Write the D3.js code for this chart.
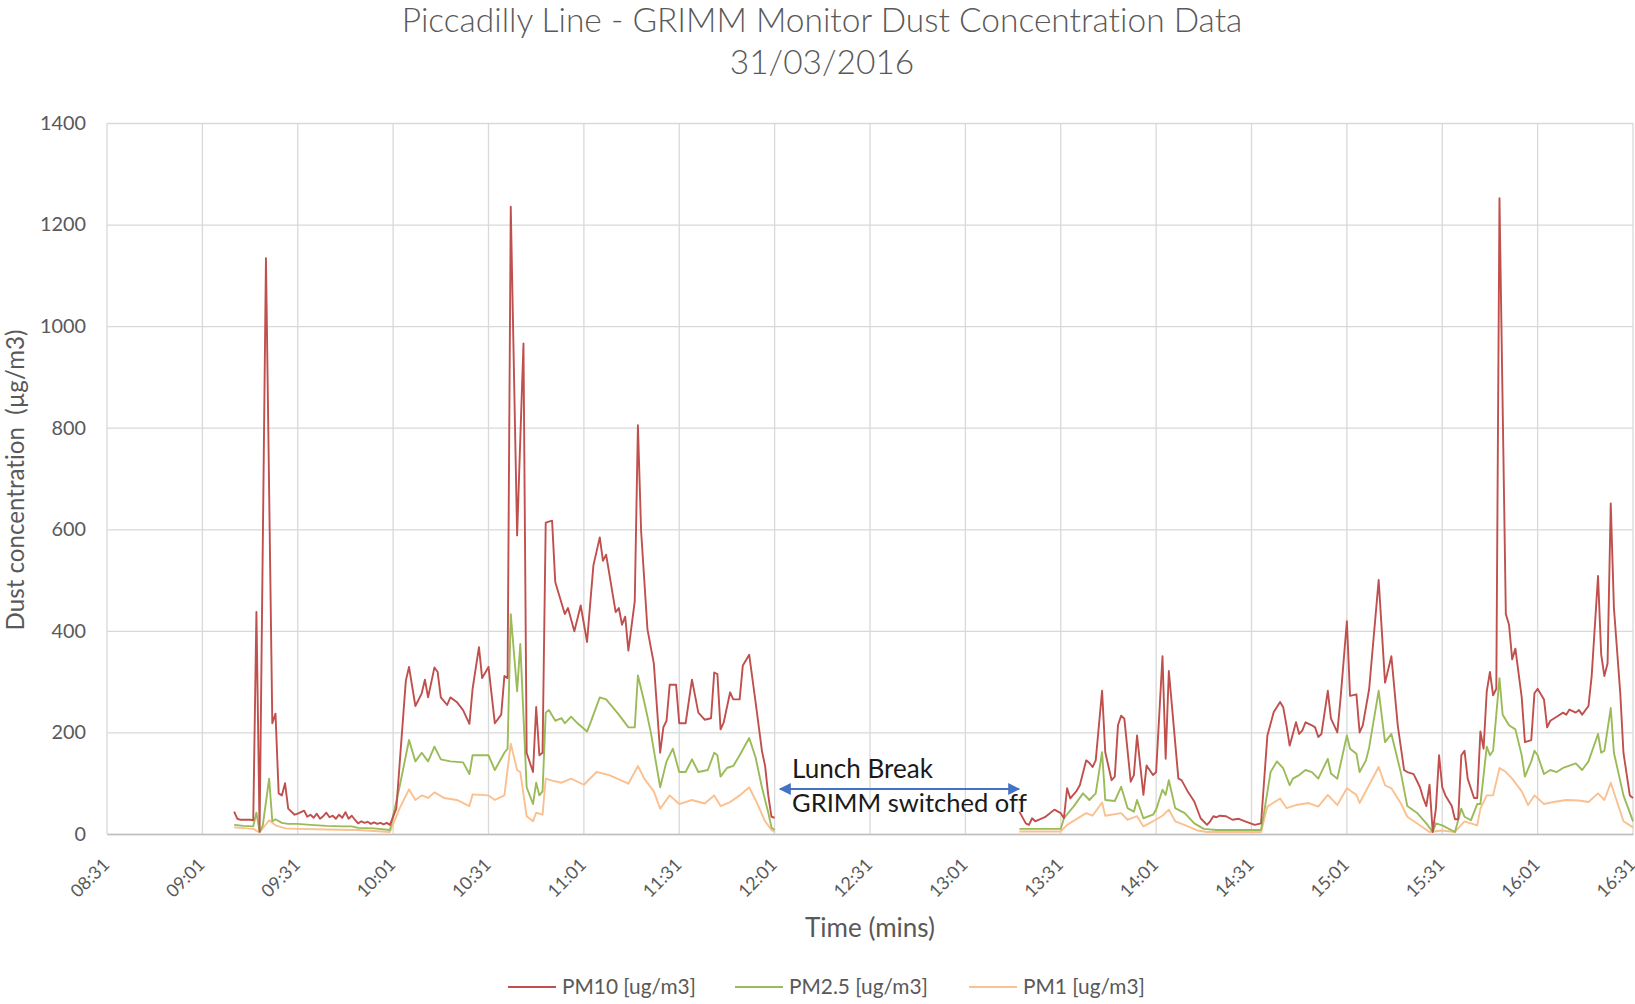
<!DOCTYPE html>
<html>
<head>
<meta charset="utf-8">
<script src="https://cdn.jsdelivr.net/npm/d3@7"></script>
<style>
  body { margin: 0; background: #fff; overflow: hidden; }
  svg text { font-family: Lato, "Open Sans", sans-serif; font-variant-ligatures: none; font-feature-settings: "liga" 0; }
</style>
</head>
<body>
<div id="chart"></div>
<script>
const titleLines = ["Piccadilly Line - GRIMM Monitor Dust Concentration Data", "31/03/2016"];
const xTicks = ["08:31", "09:01", "09:31", "10:01", "10:31", "11:01", "11:31", "12:01", "12:31",
  "13:01", "13:31", "14:01", "14:31", "15:01", "15:31", "16:01", "16:31"];
const yTicks = [0, 200, 400, 600, 800, 1000, 1200, 1400];
const seriesNames = ["PM10 [ug/m3]", "PM2.5 [ug/m3]", "PM1 [ug/m3]"];
const seriesColors = ["#c0504d", "#9bbb59", "#fac090"];

// [time, value]
const pm10 = [
  ["09:11",44],["09:12",30],["09:13",28],["09:14",28],["09:16",28],["09:17",27],["09:18",437],["09:19",5],
  ["09:21",1134],["09:23",218],["09:24",237],["09:25",80],["09:26",76],["09:27",100],["09:28",50],["09:30",38],
  ["09:31",40],["09:33",46],["09:34",34],["09:35",38],["09:36",32],["09:37",40],["09:38",30],["09:39",35],
  ["09:40",42],["09:41",33],["09:42",36],["09:43",30],["09:44",38],["09:45",32],["09:46",43],["09:47",30],
  ["09:48",36],["09:49",28],["09:50",21],["09:51",25],["09:52",22],["09:53",24],["09:54",20],["09:55",23],
  ["09:56",20],["09:57",22],["09:58",19],["09:59",22],["10:00",18],["10:02",50],["10:03",134],["10:05",302],
  ["10:06",329],["10:08",252],["10:10",277],["10:11",304],["10:12",269],["10:14",328],["10:15",319],["10:16",269],
  ["10:18",254],["10:19",269],["10:21",260],["10:23",244],["10:25",217],["10:26",286],["10:28",368],["10:29",307],
  ["10:31",329],["10:33",218],["10:35",235],["10:36",311],["10:37",307],["10:38",1235],["10:40",588],["10:42",966],
  ["10:43",160],["10:45",122],["10:46",250],["10:47",155],["10:48",160],["10:49",613],["10:51",617],["10:52",496],
  ["10:53",475],["10:55",433],["10:56",445],["10:58",399],["11:00",450],["11:02",378],["11:03",454],["11:04",529],
  ["11:06",584],["11:07",538],["11:08",550],["11:11",437],["11:12",445],["11:13",412],["11:14",428],["11:15",361],
  ["11:17",458],["11:18",805],["11:19",597],["11:21",403],["11:23",336],["11:25",160],["11:26",210],["11:27",223],
  ["11:28",294],["11:30",294],["11:31",218],["11:33",218],["11:35",304],["11:37",239],["11:39",225],["11:41",228],
  ["11:42",318],["11:43",315],["11:44",206],["11:45",220],["11:47",279],["11:48",265],["11:50",265],["11:51",332],
  ["11:53",353],["11:55",260],["11:57",164],["11:58",134],["11:59",76],["12:00",34],["12:01",32],
  ["13:18",44],["13:20",21],["13:21",18],["13:22",31],["13:23",25],["13:24",28],["13:26",33],["13:27",38],
  ["13:29",48],["13:31",41],["13:32",31],["13:33",90],["13:34",70],["13:36",85],["13:37",96],["13:39",145],
  ["13:40",140],["13:41",132],["13:42",145],["13:44",282],["13:45",161],["13:47",106],["13:48",113],["13:49",214],
  ["13:50",233],["13:51",227],["13:53",103],["13:54",116],["13:55",194],["13:57",77],["13:58",135],["14:00",116],
  ["14:01",122],["14:03",350],["14:04",148],["14:05",321],["14:08",109],["14:09",106],["14:11",83],["14:13",64],
  ["14:15",31],["14:17",18],["14:18",25],["14:19",35],["14:20",33],["14:21",36],["14:23",35],["14:25",28],
  ["14:27",30],["14:29",25],["14:32",18],["14:34",21],["14:36",194],["14:38",240],["14:40",260],["14:41",249],
  ["14:42",214],["14:43",174],["14:45",220],["14:46",197],["14:47",204],["14:48",220],["14:50",214],["14:51",210],
  ["14:52",191],["14:53",197],["14:55",282],["14:56",227],["14:58",200],["14:59",266],["15:01",419],["15:02",272],
  ["15:04",275],["15:05",200],["15:06",214],["15:08",285],["15:11",500],["15:13",298],["15:15",350],["15:17",214],
  ["15:19",126],["15:20",122],["15:22",118],["15:24",92],["15:25",71],["15:26",55],["15:27",97],["15:28",4],
  ["15:29",50],["15:30",155],["15:31",92],["15:32",76],["15:34",55],["15:35",29],["15:36",29],["15:37",155],
  ["15:38",164],["15:39",109],["15:41",71],["15:42",71],["15:43",202],["15:44",168],["15:45",281],["15:46",319],
  ["15:47",273],["15:48",286],["15:49",1252],["15:51",433],["15:52",412],["15:53",344],["15:54",365],["15:56",269],
  ["15:57",181],["15:59",185],["16:00",277],["16:01",286],["16:03",265],["16:04",210],["16:05",223],["16:07",231],
  ["16:09",239],["16:10",235],["16:11",245],["16:13",239],["16:14",244],["16:15",235],["16:17",252],["16:18",311],
  ["16:20",508],["16:21",353],["16:22",311],["16:23",336],["16:24",651],["16:25",445],["16:27",277],["16:28",160],
  ["16:30",76],["16:31",71]
];

const pm25 = [
  ["09:11",18],["09:14",16],["09:17",15],["09:18",42],["09:19",4],["09:20",17],["09:22",109],["09:23",25],
  ["09:24",29],["09:26",22],["09:28",20],["09:31",20],["09:35",18],["09:40",16],["09:45",15],["09:48",15],
  ["09:50",12],["09:55",11],["10:00",8],["10:03",92],["10:06",185],["10:08",143],["10:10",160],["10:12",143],
  ["10:14",172],["10:16",147],["10:19",143],["10:23",141],["10:25",118],["10:26",155],["10:31",155],["10:33",126],
  ["10:36",160],["10:37",168],["10:38",433],["10:40",281],["10:41",374],["10:43",92],["10:45",59],["10:46",101],
  ["10:47",76],["10:48",84],["10:49",239],["10:50",244],["10:52",223],["10:54",228],["10:55",218],["10:57",231],
  ["10:59",218],["11:02",202],["11:03",218],["11:06",269],["11:08",265],["11:12",235],["11:15",210],["11:17",210],
  ["11:18",312],["11:20",260],["11:22",202],["11:25",92],["11:27",143],["11:29",168],["11:31",122],["11:33",122],
  ["11:35",147],["11:37",122],["11:40",126],["11:42",160],["11:43",155],["11:44",113],["11:46",130],["11:48",134],
  ["11:50",155],["11:53",189],["11:55",151],["11:57",92],["11:59",42],["12:00",13],["12:01",8],
  ["13:18",10],["13:25",10],["13:31",10],["13:32",31],["13:35",54],["13:38",80],["13:40",67],["13:42",80],
  ["13:44",161],["13:45",67],["13:48",65],["13:50",93],["13:52",51],["13:54",44],["13:55",67],["13:57",31],
  ["14:00",38],["14:01",48],["14:03",87],["14:04",77],["14:05",106],["14:07",51],["14:10",41],["14:13",21],
  ["14:16",10],["14:20",8],["14:25",8],["14:30",8],["14:34",8],["14:35",44],["14:37",122],["14:39",143],
  ["14:41",129],["14:43",96],["14:44",109],["14:46",116],["14:48",126],["14:50",122],["14:52",109],["14:55",148],
  ["14:56",119],["14:58",109],["15:01",194],["15:02",168],["15:04",158],["15:05",122],["15:07",145],["15:08",170],
  ["15:11",282],["15:13",181],["15:15",197],["15:18",120],["15:20",55],["15:23",42],["15:26",21],["15:28",4],
  ["15:29",21],["15:31",17],["15:35",4],["15:37",50],["15:38",34],["15:40",27],["15:42",59],["15:43",59],
  ["15:45",172],["15:46",155],["15:47",164],["15:49",307],["15:50",235],["15:52",214],["15:54",206],["15:56",155],
  ["15:57",113],["15:59",143],["16:00",164],["16:01",155],["16:03",118],["16:05",126],["16:07",122],["16:09",130],
  ["16:13",139],["16:15",126],["16:17",143],["16:20",197],["16:21",160],["16:22",164],["16:24",248],["16:25",160],
  ["16:28",76],["16:30",42],["16:31",25]
];

const pm1 = [
  ["09:11",13],["09:17",10],["09:19",3],["09:22",27],["09:24",17],["09:27",11],["09:31",10],["09:40",9],
  ["09:50",8],["10:00",4],["10:03",50],["10:06",88],["10:08",67],["10:10",76],["10:12",71],["10:14",82],
  ["10:17",71],["10:21",67],["10:25",55],["10:26",78],["10:31",76],["10:33",67],["10:36",76],["10:38",178],
  ["10:40",126],["10:41",122],["10:43",35],["10:45",25],["10:46",42],["10:48",38],["10:49",109],["10:51",105],
  ["10:54",101],["10:57",109],["11:01",97],["11:05",122],["11:09",116],["11:15",99],["11:18",134],["11:20",109],
  ["11:23",84],["11:25",50],["11:28",76],["11:31",59],["11:35",67],["11:39",60],["11:42",76],["11:44",55],
  ["11:47",63],["11:50",76],["11:53",92],["11:55",67],["11:58",25],["12:00",8],["12:01",4],
  ["13:18",5],["13:25",5],["13:31",5],["13:33",18],["13:39",41],["13:41",36],["13:44",62],["13:45",36],
  ["13:50",41],["13:52",28],["13:55",35],["13:57",15],["14:00",25],["14:03",36],["14:05",48],["14:07",25],
  ["14:11",15],["14:14",7],["14:17",4],["14:34",4],["14:36",54],["14:40",70],["14:42",51],["14:45",57],
  ["14:49",61],["14:52",54],["14:55",77],["14:58",57],["15:01",90],["15:04",77],["15:05",61],["15:11",132],
  ["15:13",96],["15:15",90],["15:18",60],["15:20",34],["15:23",21],["15:27",4],["15:31",7],["15:35",4],
  ["15:38",25],["15:42",17],["15:43",50],["15:45",76],["15:47",76],["15:49",130],["15:51",122],["15:53",109],
  ["15:56",84],["15:58",57],["16:00",76],["16:03",59],["16:06",63],["16:10",67],["16:14",66],["16:17",63],
  ["16:20",80],["16:22",67],["16:24",101],["16:26",63],["16:28",25],["16:31",13]
];

const width = 1635, height = 1004;
const margin = {top: 123, right: 2, bottom: 170, left: 107};
const plotW = width - margin.left - margin.right;
const plotH = height - margin.top - margin.bottom;
const parse = d3.timeParse("%H:%M");

const svg = d3.select("#chart")
  .append("svg")
  .attr("width", width)
  .attr("height", height);

// fit a text element to the width it has in the reference
function fitText(sel, w) {
  sel.each(function() {
    const fs = parseFloat(getComputedStyle(this).fontSize);
    const len = this.getComputedTextLength();
    d3.select(this).style("font-size", (fs * w / len) + "px");
  });
}

const x = d3.scaleTime()
  .domain([parse(xTicks[0]), parse(xTicks[xTicks.length - 1])])
  .range([0, plotW]);

const y = d3.scaleLinear()
  .domain([0, 1400])
  .range([plotH, 0]);

const g = svg.append("g")
  .attr("transform", `translate(${margin.left},${margin.top})`);

// horizontal gridlines + y labels
const yAxis = g.append("g")
  .call(d3.axisLeft(y).tickValues(yTicks).tickFormat(d3.format("d")).tickSize(-plotW).tickPadding(21));
yAxis.select(".domain").remove();
yAxis.selectAll("line").attr("stroke", "#d9d9d9").attr("stroke-width", 1.3);
yAxis.selectAll("text").attr("fill", "#595959").style("font-size", "20px");
fitText(yAxis.selectAll("text").filter(d => d === 1400), 46);
yAxis.selectAll("text").style("font-size", yAxis.selectAll("text").filter(d => d === 1400).style("font-size"));

// vertical gridlines
g.append("g")
  .selectAll("line")
  .data(xTicks)
  .enter()
  .append("line")
  .attr("x1", d => x(parse(d)))
  .attr("x2", d => x(parse(d)))
  .attr("y1", 0)
  .attr("y2", plotH)
  .attr("stroke", "#d9d9d9")
  .attr("stroke-width", 1.3);

// x axis
const xAxis = g.append("g")
  .attr("transform", `translate(0,${plotH})`)
  .call(d3.axisBottom(x).tickValues(xTicks.map(parse)).tickFormat(d3.timeFormat("%H:%M")).tickSize(0));
xAxis.select(".domain").attr("stroke", "#bfbfbf").attr("stroke-width", 1.5);
xAxis.selectAll("text")
  .attr("fill", "#595959")
  .attr("text-anchor", "end")
  .attr("y", 0)
  .attr("dy", 0)
  .attr("transform", "translate(3,32) rotate(-45)")
  .style("font-size", "20px");
fitText(xAxis.selectAll("text").filter((d, i) => i === 0), 46);
xAxis.selectAll("text").style("font-size", xAxis.selectAll("text").filter((d, i) => i === 0).style("font-size"));

// series lines, broken over the lunch gap
const line = d3.line()
  .x(d => x(parse(d[0])))
  .y(d => y(d[1]));

function segments(data) {
  const out = [[]];
  data.forEach((d, i) => {
    if (i > 0 && parse(d[0]) - parse(data[i - 1][0]) > 20 * 60000) out.push([]);
    out[out.length - 1].push(d);
  });
  return out;
}

[pm1, pm25, pm10].forEach((data, k) => {
  const color = seriesColors[2 - k];
  g.append("g")
    .selectAll("path")
    .data(segments(data))
    .enter()
    .append("path")
    .attr("d", line)
    .attr("fill", "none")
    .attr("stroke", color)
    .attr("stroke-width", 1.9)
    .attr("stroke-linejoin", "round");
});

// lunch break annotation
const defs = svg.append("defs");
defs.append("marker")
  .attr("id", "arrow")
  .attr("viewBox", "0 0 10 10")
  .attr("refX", 9).attr("refY", 5)
  .attr("markerWidth", 7).attr("markerHeight", 6)
  .attr("orient", "auto-start-reverse")
  .append("path")
  .attr("d", "M0,0L10,5L0,10z")
  .attr("fill", "#4472c4");

svg.append("line")
  .attr("x1", 780).attr("x2", 1019)
  .attr("y1", 789).attr("y2", 789)
  .attr("stroke", "#4472c4")
  .attr("stroke-width", 2)
  .attr("marker-start", "url(#arrow)")
  .attr("marker-end", "url(#arrow)");

svg.append("text").attr("x", 792).attr("y", 778).attr("fill", "#1a1a1a")
  .style("font-size", "22px").text("Lunch Break").call(fitText, 141);
svg.append("text").attr("x", 792).attr("y", 812).attr("fill", "#1a1a1a")
  .style("font-size", "22px").text("GRIMM switched off").call(fitText, 235);

// titles
svg.selectAll(".title")
  .data(titleLines)
  .enter()
  .append("text")
  .attr("class", "title")
  .attr("x", 822)
  .attr("y", (d, i) => 32 + i * 42)
  .attr("text-anchor", "middle")
  .attr("fill", "#595959")
  .style("font-weight", 300)
  .style("font-size", "28px")
  .text(d => d);
fitText(svg.selectAll(".title").filter((d, i) => i === 0), 841);
svg.selectAll(".title").style("font-size", svg.selectAll(".title").filter((d, i) => i === 0).style("font-size"));

svg.append("text")
  .attr("transform", "translate(24,480) rotate(-90)")
  .attr("text-anchor", "middle")
  .attr("fill", "#595959")
  .style("font-size", "21px")
  .style("white-space", "pre")
  .text("Dust concentration  (\u00b5g/m3)")
  .call(fitText, 301);

svg.append("text")
  .attr("x", 870).attr("y", 937)
  .attr("text-anchor", "middle")
  .attr("fill", "#595959")
  .style("font-size", "21px")
  .text("Time (mins)")
  .call(fitText, 130);

// legend
const legendX = [508, 735, 969];
const legend = svg.selectAll(".legend")
  .data(seriesNames)
  .enter()
  .append("g")
  .attr("class", "legend")
  .attr("transform", (d, i) => `translate(${legendX[i]},987)`);
legend.append("line")
  .attr("x1", 0).attr("x2", 48)
  .attr("stroke", (d, i) => seriesColors[i])
  .attr("stroke-width", 2);
legend.append("text")
  .attr("x", 54).attr("y", 7)
  .attr("fill", "#595959")
  .style("font-size", "19px")
  .text(d => d);
fitText(legend.selectAll("text").filter(d => d === seriesNames[0]), 134);
legend.selectAll("text").style("font-size", legend.selectAll("text").filter(d => d === seriesNames[0]).style("font-size"));
</script>
</body>
</html>
